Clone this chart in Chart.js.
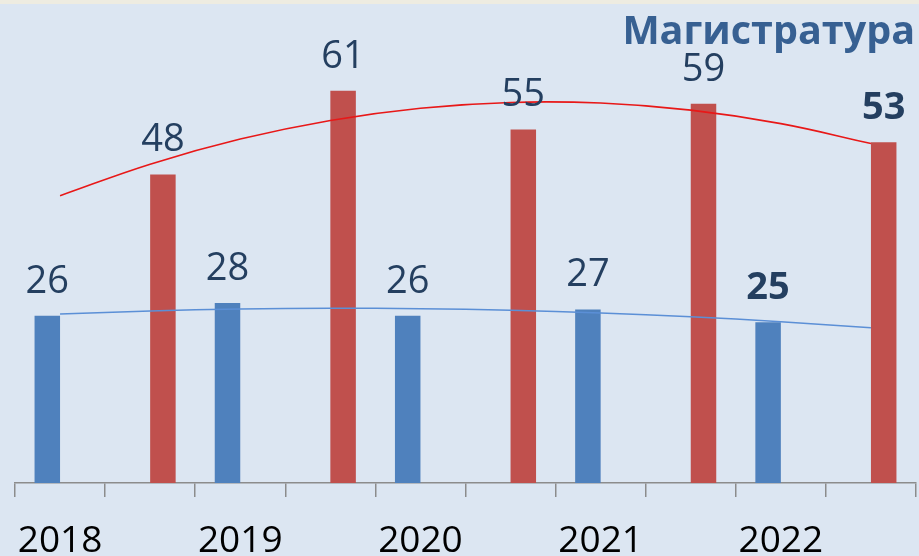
<!DOCTYPE html>
<html>
<head>
<meta charset="utf-8">
<script src="https://cdn.jsdelivr.net/npm/chart.js@4.4.1/dist/chart.umd.min.js"></script>
<style>
  html, body { margin: 0; padding: 0; background: #dce6f2; }
  canvas { display: block; }
</style>
</head>
<body>
<canvas id="chart" width="919" height="556"></canvas>
<script>
// Chart data
const title = 'Магистратура';
const years = ['2018', '2019', '2020', '2021', '2022'];
const blueValues = [26, 28, 26, 27, 25];
const redValues = [48, 61, 55, 59, 53];

// each year has two slots on the axis: blue bar, then red bar
const labels = [];
const blueData = [];
const redData = [];
years.forEach((y, i) => {
  labels.push(y, '');
  blueData.push(blueValues[i], null);
  redData.push(null, redValues[i]);
});

// 2nd order polynomial trend (like the spreadsheet trendline), x = 1..n over the category slots
function polyTrend(data) {
  const pts = [];
  data.forEach((v, i) => { if (v !== null) pts.push([i + 1, v]); });
  const s = [0, 0, 0, 0, 0], t = [0, 0, 0];
  pts.forEach(([x, y]) => {
    for (let k = 0; k < 5; k++) s[k] += Math.pow(x, k);
    for (let k = 0; k < 3; k++) t[k] += y * Math.pow(x, k);
  });
  const m = [[s[0], s[1], s[2], t[0]], [s[1], s[2], s[3], t[1]], [s[2], s[3], s[4], t[2]]];
  for (let c = 0; c < 3; c++) {
    for (let r = c + 1; r < 3; r++) {
      const f = m[r][c] / m[c][c];
      for (let k = c; k < 4; k++) m[r][k] -= f * m[c][k];
    }
  }
  const coef = [0, 0, 0];
  for (let r = 2; r >= 0; r--) {
    let v = m[r][3];
    for (let k = r + 1; k < 3; k++) v -= m[r][k] * coef[k];
    coef[r] = v / m[r][r];
  }
  return data.map((_, i) => coef[0] + coef[1] * (i + 1) + coef[2] * (i + 1) * (i + 1));
}

const labelFont = "'Open Sans', 'Noto Sans', sans-serif";

// background + top strip
const backgroundPlugin = {
  id: 'background',
  beforeDraw(chart) {
    const ctx = chart.ctx;
    ctx.save();
    ctx.fillStyle = '#dce6f2';
    ctx.fillRect(0, 0, chart.width, chart.height);
    ctx.fillStyle = '#eeece1';
    ctx.fillRect(0, 0, chart.width, 4);
    ctx.restore();
  }
};

// value labels above bars (last value of each series bold), year labels under the axis, title
const valueLabelPlugin = {
  id: 'valueLabels',
  afterDraw(chart) {
    const ctx = chart.ctx;
    ctx.save();
    ctx.textAlign = 'center';
    ctx.textBaseline = 'alphabetic';
    ctx.fillStyle = '#243f60';
    chart.data.datasets.forEach((ds, di) => {
      if (ds.type === 'line') return;
      const meta = chart.getDatasetMeta(di);
      let last = -1;
      ds.data.forEach((v, i) => { if (v !== null) last = i; });
      meta.data.forEach((bar, i) => {
        const v = ds.data[i];
        if (v === null) return;
        ctx.font = (i === last ? 'bold ' : '') + '38px ' + labelFont;
        ctx.fillText(String(v), bar.x, bar.y - 23);
      });
    });

    const xScale = chart.scales.x;
    ctx.fillStyle = '#000000';
    ctx.font = '37px ' + labelFont;
    chart.data.labels.forEach((lab, i) => {
      if (!lab) return;
      ctx.fillText(lab, xScale.getPixelForValue(i), 552);
    });

    ctx.textAlign = 'right';
    ctx.fillStyle = '#376092';
    ctx.font = "bold 39.5px 'Open Sans', 'Noto Sans', sans-serif";
    ctx.fillText(title, 915, 44);
    ctx.restore();
  }
};

new Chart(document.getElementById('chart'), {
  type: 'bar',
  data: {
    labels: labels,
    datasets: [
      {
        type: 'line',
        data: polyTrend(redData),
        borderColor: '#e81818',
        borderWidth: 1.6,
        pointRadius: 0,
        tension: 0.4,
        order: 0
      },
      {
        type: 'line',
        data: polyTrend(blueData),
        borderColor: '#5b8fd6',
        borderWidth: 1.5,
        pointRadius: 0,
        tension: 0.4,
        order: 0
      },
      {
        data: blueData,
        backgroundColor: '#4f81bd',
        barPercentage: 1.0,
        categoryPercentage: 0.566,
        order: 1
      },
      {
        data: redData,
        backgroundColor: '#c0504d',
        barPercentage: 1.0,
        categoryPercentage: 0.566,
        order: 1
      }
    ]
  },
  options: {
    responsive: false,
    animation: false,
    layout: { padding: { left: 15, right: 3, top: 33, bottom: 59 } },
    scales: {
      x: {
        grid: {
          offset: true,
          drawOnChartArea: false,
          drawTicks: true,
          tickLength: 14,
          color: '#8c8c8c',
          lineWidth: 1.5
        },
        border: { display: true, color: '#8c8c8c', width: 1.5 },
        ticks: { display: false, autoSkip: false }
      },
      y: {
        display: false,
        min: 0,
        max: 70
      }
    },
    plugins: {
      legend: { display: false },
      tooltip: { enabled: false },
      title: { display: false }
    }
  },
  plugins: [backgroundPlugin, valueLabelPlugin]
});
</script>
</body>
</html>
